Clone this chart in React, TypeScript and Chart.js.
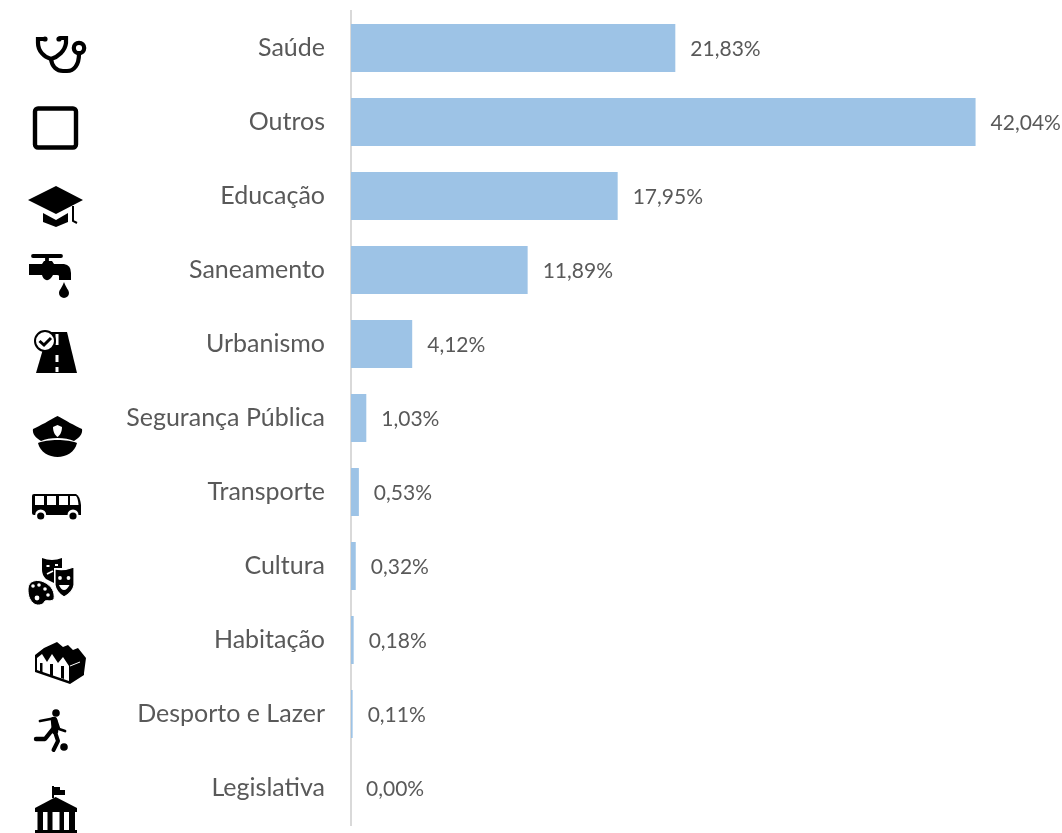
import React, { useEffect, useRef } from "react";
import { Chart, registerables } from "chart.js";

Chart.register(...registerables);

const categories = ["Saúde", "Outros", "Educação", "Saneamento", "Urbanismo", "Segurança Pública", "Transporte", "Cultura", "Habitação", "Desporto e Lazer", "Legislativa"];
const shares = [21.83, 42.04, 17.95, 11.89, 4.12, 1.03, 0.53, 0.32, 0.18, 0.11, 0.0];

const valueLabels = {
  id: "valueLabels",
  afterDatasetsDraw(chart: any) {
    const { ctx } = chart;
    const meta = chart.getDatasetMeta(0);
    ctx.save();
    ctx.font = '21px Lato';
    ctx.fillStyle = "#595959";
    ctx.textAlign = "left";
    ctx.textBaseline = "middle";
    meta.data.forEach((el: any, i: number) => {
      ctx.fillText(shares[i].toFixed(2).replace(".", ",") + "%", el.x + 15, el.y + 1.5);
    });
    ctx.restore();
  },
};

function Icons() {
  return (
    <svg width={1062} height={833} viewBox="0 0 1062 833" style={{ position: "absolute", left: 0, top: 0, pointerEvents: "none" }}>
      {/* stethoscope */}
      <g fill="none" stroke="#000" strokeWidth={4.2} strokeLinecap="round">
        <path d="M45 39 H38 V43 C38 51 44 57 51 59 C58 57 65 51 66 43 V38 H60" />
        <path d="M51 59 C52 67 57 71 63 71 H67 C74 71 79 65 79 54" />
        <circle cx={79} cy={48} r={5.2} />
      </g>
      <circle cx={45} cy={39} r={2.6} />
      <circle cx={59} cy={39} r={2.6} />
      {/* square */}
      <rect x={35} y={108.5} width={41} height={39} rx={3} fill="none" stroke="#000" strokeWidth={4.4} />
      {/* graduation cap */}
      <path d="M28 200 L56 186 L83 200 L56 214 Z M43 213 L56 220 L68 213 V222 L56 227 L43 222 Z" />
      <path d="M73 206 V221 L77 223" fill="none" stroke="#000" strokeWidth={2} />
      {/* tap */}
      <path d="M33 256 H61 M47 256 V264" stroke="#000" strokeWidth={3.8} strokeLinecap="round" />
      <path d="M29 264 H42 L44 261 H52 L54 264 H64 Q71 265 71 273 V280 H59 V276 Q59 275 57 275 H53 Q50 281 46 280 Q43 279 42 275 H29 Z" />
      <path d="M64 282 C66 288 69 290 69 293 A5 5 0 0 1 59 293 C59 290 62 288 64 282 Z" />
      {/* road */}
      <path d="M48 332 H67 L77 373 H36 Z" />
      <path d="M57 334 V345 M57 355 V362 M57 367 V372" stroke="#fff" strokeWidth={3} />
      <circle cx={45} cy={341} r={10} fill="#fff" stroke="#000" strokeWidth={2} />
      <path d="M39.5 341 L44 345 L51 338" fill="none" stroke="#000" strokeWidth={3} />
      {/* police cap */}
      <path d="M33 429 C40 426 50 420 57.5 416 C65 420 75 426 82 429 C83 434 79 438 74 441 C66 437 49 437 41 441 C36 438 32 434 33 429 Z" />
      <path d="M38 443 C47 439 68 439 77 443 C75 452 66 457 57.5 457 C49 457 40 452 38 443 Z" />
      <path d="M53 427 L57.5 425 L62 427 C62 433 59 436 57.5 437 C56 436 53 433 53 427 Z" fill="#fff" />
      {/* bus */}
      <path d="M34 494 H76 Q80 496 81 505 V515 H34 Q32 515 32 513 V496 Q32 494 34 494 Z" />
      <path d="M35 496 H44 V505 H35 Z M47 496 H56 V505 H47 Z M59 496 H68 V505 H59 Z M70 496 H76 Q78 498 78.5 505 H70 Z" fill="#fff" />
      <circle cx={40.7} cy={515} r={5.5} fill="#fff" />
      <circle cx={73} cy={515} r={5.5} fill="#fff" />
      <circle cx={40.7} cy={516} r={3.6} />
      <circle cx={73} cy={516} r={3.6} />
      {/* theatre masks and palette */}
      <path d="M42 558 Q52 562 62 558 V568 H54 V583 L46 579 Q42 575 42 570 Z" />
      <path d="M46.5 566 H49.5 M55 565 H58 M47 574 L53 571" stroke="#fff" strokeWidth={1.8} />
      <path d="M55 569 Q64 571 74 567 V585 Q73 592 64 597 Q56 592 55 585 Z" stroke="#fff" strokeWidth={1.2} />
      <circle cx={60} cy={578} r={1.9} fill="#fff" />
      <circle cx={68.5} cy={578} r={1.9} fill="#fff" />
      <path d="M59 585 H69.5 Q67 590 64 590 Q61 590 59 585 Z" fill="#fff" />
      <path d="M28 589 C28 580 38 579 44 582 C52 586 55 592 54 599 C52 602 47 600 45 601 C43 606 36 606 33 603 C29 599 28 595 28 589 Z" stroke="#fff" strokeWidth={1} />
      <circle cx={33} cy={586} r={1.8} fill="#fff" />
      <circle cx={39} cy={585} r={1.8} fill="#fff" />
      <circle cx={45} cy={589} r={1.8} fill="#fff" />
      <circle cx={48} cy={595} r={1.8} fill="#fff" />
      <circle cx={37} cy={598} r={2.4} fill="#fff" />
      {/* houses */}
      <path d="M35 655 L44 648 L57 642 L63 647 L68 645 L73 650 L78 648 L86 658 L84 673 L84 675 L70 684 L35 672 Z" />
      <path d="M37 658 L42 654 L47 662 L52 654 L58 663 L63 657 L69 666 V681 L37 670 Z" fill="#fff" />
      <path d="M40 663 H42.5 V673 L40 672 Z M50 664 H53 V676 L50 675 Z M61 666 H64 V679 L61 678 Z" />
      <path d="M70 666 L80 662" stroke="#fff" strokeWidth={1} />
      {/* football player */}
      <circle cx={56} cy={713} r={3.8} />
      <circle cx={64} cy={747} r={3.8} />
      <g fill="none" stroke="#000" strokeLinecap="round" strokeLinejoin="round">
        <path d="M40 721 L53 718.5 L56 720 L59 729 L65 731" strokeWidth={2.8} />
        <path d="M54 720 L55 731" strokeWidth={6.5} />
        <path d="M36 739 H45 L53 729" strokeWidth={4.4} />
        <path d="M55 732 L58 741 L53.5 750" strokeWidth={4} />
      </g>
      {/* legislative building */}
      <path d="M53 786 V798" stroke="#000" strokeWidth={2} />
      <path d="M53 787 H60 V790 H65 V795 H54 Z" />
      <path d="M35 808 L55.7 797 L77 808 V812 H35 Z" />
      <path d="M37.5 812 H43 V830 H37.5 Z M47.5 812 H52.5 V830 H47.5 Z M59.5 812 H64 V830 H59.5 Z M69 812 H75 V830 H69 Z M35 830 H77 V833 H35 Z" />
    </svg>
  );
}

export default function App() {
  const ref = useRef<HTMLCanvasElement>(null);
  useEffect(() => {
    const chart = new Chart(ref.current as HTMLCanvasElement, {
      type: "bar",
      data: {
        labels: categories,
        datasets: [{ data: shares, backgroundColor: "#9dc3e6", categoryPercentage: 1, barPercentage: 0.649, borderWidth: 0 }],
      },
      options: {
        indexAxis: "y",
        animation: false,
        responsive: false,
        layout: { padding: { top: 11, bottom: 8, right: 12, left: 0 } },
        plugins: { legend: { display: false }, tooltip: { enabled: false } },
        scales: {
          x: { display: false, min: 0, max: 47.05 },
          y: {
            afterFit(scale: any) { scale.width = 351; scale.paddingTop = 0; scale.paddingBottom = 0; },
            grid: { display: false, drawTicks: false },
            border: { color: "#d9d9d9", width: 2 },
            ticks: { color: "#595959", font: { family: "Lato", size: 25 }, padding: 26, autoSkip: false },
          },
        },
      },
      plugins: [valueLabels],
    } as any);
    return () => chart.destroy();
  }, []);
  return (
    <div style={{ position: "fixed", left: 0, top: 0, width: 1062, height: 833, background: "#fff", overflow: "hidden" }}>
      <canvas ref={ref} width={1062} height={833} style={{ display: "block" }} />
      <Icons />
    </div>
  );
}
